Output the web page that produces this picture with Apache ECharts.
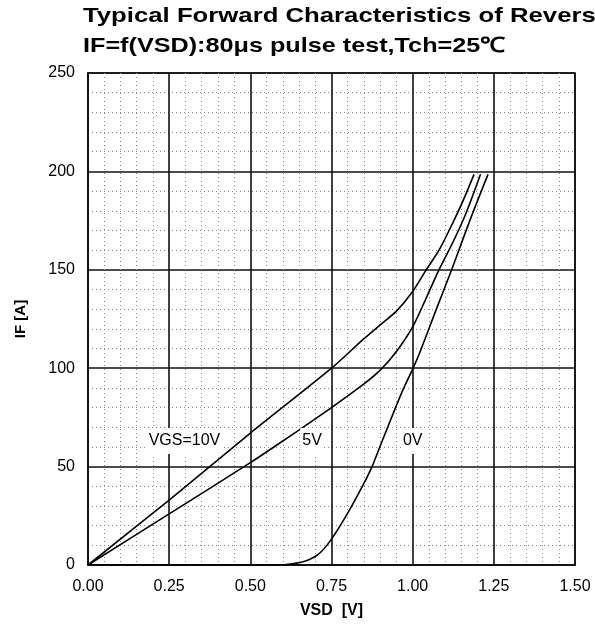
<!DOCTYPE html>
<html>
<head>
<meta charset="utf-8">
<script src="https://cdn.jsdelivr.net/npm/echarts@6/dist/echarts.min.js"></script>
<style>
  html, body { margin: 0; padding: 0; background: #fff; }
  #chart { width: 595px; height: 624px; }
</style>
</head>
<body>
<div id="chart"></div>
<script>
// Forward characteristics of the reverse diode, IF versus VSD, per gate voltage
const vsd10V = [0, 0.25, 0.5, 0.75, 0.85, 0.9, 0.95, 1.0, 1.042, 1.083, 1.124, 1.155, 1.189];
const if10V  = [0, 33, 67, 100, 115, 122, 129, 139, 150, 160.5, 174, 185, 198.5];

const vsd5V = [0, 0.25, 0.5, 0.6, 0.75, 0.85, 0.9, 0.95, 1.0, 1.04, 1.081, 1.124, 1.165, 1.209];
const if5V  = [0, 26, 52, 63, 80, 92, 99, 108.5, 121, 135, 150, 164, 179, 198.5];

const vsd0V = [0, 0.58, 0.63, 0.67, 0.71, 0.745, 0.795, 0.845, 0.875, 0.9, 0.94, 0.97, 1.0, 1.022, 1.073, 1.12, 1.176, 1.232];
const if0V  = [0, 0, 0.6, 2, 5.5, 12, 25, 40, 50, 60.5, 77, 89, 99.5, 108, 130, 150, 175, 198.5];

// Curve labels and where they sit (VSD, IF)
const curveLabels = ['VGS=10V', '5V', '0V'];
const labelVsd = [0.297, 0.69, 1.0];
const labelIf = [63, 63, 63];

// Axis ranges and tick steps
const xMin = 0, xMax = 1.5, xStep = 0.25;
const yMin = 0, yMax = 250, yStep = 50;

const pairs = (xs, ys) => xs.map((x, i) => [x, ys[i]]);

const tickFont = 'Liberation Sans, Arial, sans-serif';
const majorLine = { show: true, lineStyle: { color: '#111', width: 1.6, type: 'solid' } };
const minorLine = { show: true, lineStyle: { color: '#888', width: 1, type: [1, 3] } };

const curve = (name, xs, ys, smooth) => ({
  name,
  type: 'line',
  data: pairs(xs, ys),
  symbol: 'none',
  smooth,
  lineStyle: { color: '#000', width: 1.6 },
  z: 3
});

const chart = echarts.init(document.getElementById('chart'), null, { renderer: 'canvas' });

chart.setOption({
  animation: false,
  backgroundColor: '#fff',
  graphic: [
    {
      type: 'text', x: 83, y: 16, scaleX: 1.225,
      style: {
        text: 'Typical Forward Characteristics of Revers',
        font: 'bold 21px Liberation Sans, Arial, sans-serif',
        fill: '#000', textVerticalAlign: 'middle'
      }
    },
    {
      type: 'text', x: 83, y: 46, scaleX: 1.2,
      style: {
        text: 'IF=f(VSD):80\u03bcs pulse test,Tch=25\u2103',
        font: 'bold 21px Liberation Sans, Arial, sans-serif',
        fill: '#000', textVerticalAlign: 'middle'
      }
    }
  ],
  grid: {
    left: 88, right: 20, top: 73, bottom: 58,
    show: true, borderColor: '#111', borderWidth: 1.6, backgroundColor: '#fff'
  },
  xAxis: {
    type: 'value',
    min: xMin, max: xMax, interval: xStep,
    name: 'VSD  [V]',
    nameLocation: 'middle',
    nameGap: 38,
    nameTextStyle: { fontFamily: tickFont, fontWeight: 'bold', fontSize: 16, color: '#000' },
    axisLine: { show: true, lineStyle: { color: '#111', width: 1.6 } },
    axisTick: { show: false },
    axisLabel: {
      margin: 14, fontFamily: tickFont, fontSize: 16, color: '#000',
      formatter: v => v.toFixed(2)
    },
    splitLine: majorLine,
    minorTick: { show: false, splitNumber: 5 },
    minorSplitLine: minorLine
  },
  yAxis: {
    type: 'value',
    min: yMin, max: yMax, interval: yStep,
    name: 'IF [A]',
    nameLocation: 'middle',
    nameRotate: 90,
    nameGap: 60,
    nameTextStyle: { fontFamily: tickFont, fontWeight: 'bold', fontSize: 15, color: '#000' },
    axisLine: { show: true, lineStyle: { color: '#111', width: 1.6 } },
    axisTick: { show: false },
    axisLabel: { margin: 13, fontFamily: tickFont, fontSize: 16, color: '#000' },
    splitLine: majorLine,
    minorTick: { show: false, splitNumber: 5 },
    minorSplitLine: minorLine
  },
  series: [
    curve('VGS=10V', vsd10V, if10V, 0.25),
    curve('VGS=5V', vsd5V, if5V, 0.25),
    curve('VGS=0V', vsd0V, if0V, 0.3),
    {
      name: 'labels',
      type: 'scatter',
      symbolSize: 0,
      silent: true,
      z: 4,
      itemStyle: { opacity: 1 },
      data: curveLabels.map((t, i) => ({ value: [labelVsd[i], labelIf[i]], name: t })),
      label: {
        show: true,
        position: 'inside',
        formatter: p => p.name,
        fontFamily: tickFont,
        fontSize: 16,
        color: '#000',
        textBorderWidth: 0,
        backgroundColor: '#fff',
        padding: [5, 2]
      }
    }
  ]
});
</script>
</body>
</html>
